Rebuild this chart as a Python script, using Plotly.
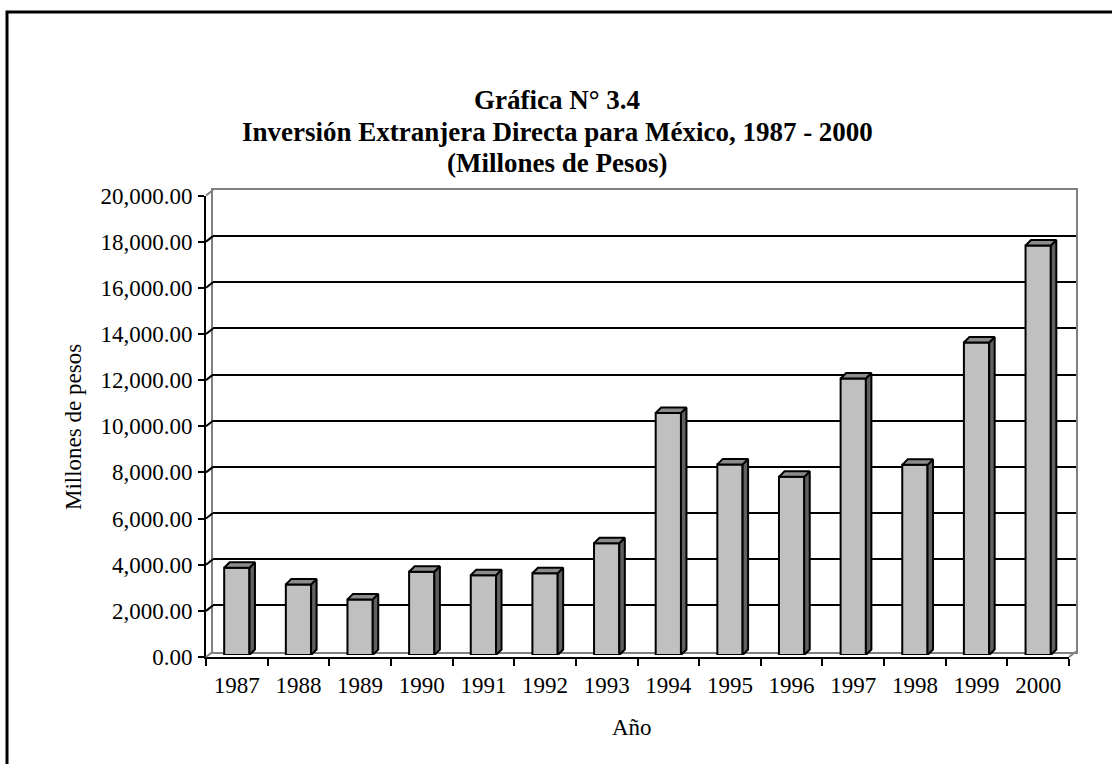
import plotly.graph_objects as go

# ---- data ----
years = ["1987", "1988", "1989", "1990", "1991", "1992", "1993",
         "1994", "1995", "1996", "1997", "1998", "1999", "2000"]
ied_values = [3780, 3060, 2410, 3610, 3460, 3540, 4840,
              10490, 8260, 7720, 11980, 8240, 13540, 17750]
y_ticks = list(range(0, 20001, 2000))

title_lines = ["Gráfica N° 3.4",
               "Inversión Extranjera Directa para México, 1987 - 2000",
               "(Millones de Pesos)"]
y_title = "Millones de pesos"
x_title = "Año"

# ---- geometry (pixels) ----
W, H = 1112, 764
FONT = "Liberation Serif, Times New Roman, serif"


def px(x):
    return x / W


def py(y):
    return 1 - y / H


FX0, FX1, FY_TOP, FY_BOT = 206, 1069, 195.5, 657   # front axes
DX, DY = 7, 5.5                                     # wall depth
BAR_UP = 2                                          # bars sit slightly behind front
YMAX = 20000

fig = go.Figure()

# invisible trace to hold the categorical front axis
fig.add_trace(go.Scatter(x=years, y=ied_values, mode="markers",
                         marker=dict(opacity=0), hoverinfo="skip",
                         showlegend=False, xaxis="x", yaxis="y"))

# back wall subplot (gridlines)
fig.add_trace(go.Scatter(x=[0], y=[0], mode="markers", marker=dict(opacity=0),
                         hoverinfo="skip", showlegend=False, xaxis="x2", yaxis="y2"))

# bars (front faces)
idx = list(range(len(years)))
BW = 0.41
fig.add_trace(go.Bar(x=idx, y=ied_values, width=BW,
                     marker=dict(color="#C0C0C0", line=dict(color="black", width=2)),
                     showlegend=False, xaxis="x3", yaxis="y3", hoverinfo="skip"))

# 3D faces computed in data units
ddx = 5.5 / ((FX1 - FX0) / len(years))
ddy = 5.5 / ((FY_BOT - FY_TOP) / YMAX)
hw = BW / 2
top_x, top_y, side_x, side_y = [], [], [], []
for i, v in zip(idx, ied_values):
    top_x += [i - hw, i + hw, i + hw + ddx, i - hw + ddx, i - hw, None]
    top_y += [v, v, v + ddy, v + ddy, v, None]
    side_x += [i + hw, i + hw, i + hw + ddx, i + hw + ddx, i + hw, None]
    side_y += [0, v, v + ddy, ddy, 0, None]
fig.add_trace(go.Scatter(x=side_x, y=side_y, mode="lines", fill="toself",
                         fillcolor="#606060", line=dict(color="black", width=2),
                         showlegend=False, xaxis="x3", yaxis="y3", hoverinfo="skip"))
fig.add_trace(go.Scatter(x=top_x, y=top_y, mode="lines", fill="toself",
                         fillcolor="#8C8C8C", line=dict(color="black", width=2),
                         showlegend=False, xaxis="x3", yaxis="y3", hoverinfo="skip"))

tick_font = dict(family=FONT, size=23, color="black")

fig.update_layout(
    width=W, height=H,
    margin=dict(l=0, r=0, t=0, b=0, autoexpand=False),
    paper_bgcolor="white",
    plot_bgcolor="rgba(0,0,0,0)",
    showlegend=False,
    xaxis=dict(type="category", categoryorder="array", categoryarray=years,
               range=[-0.5, len(years) - 0.5], automargin=False,
               domain=[px(FX0), px(FX1)], anchor="y",
               showline=True, linecolor="black", linewidth=2,
               ticks="outside", tickson="boundaries", ticklen=7, tickwidth=2,
               tickcolor="black", showgrid=False, zeroline=False,
               ticklabelstandoff=6,
               tickfont=tick_font, fixedrange=True),
    yaxis=dict(range=[0, YMAX], domain=[py(FY_BOT), py(FY_TOP)], anchor="x",
               automargin=False,
               showline=True, linecolor="black", linewidth=2,
               ticks="outside", ticklen=6, tickwidth=2, tickcolor="black",
               tickvals=y_ticks, tickformat=",.2f", showgrid=False, zeroline=False,
               ticklabelstandoff=1,
               tickfont=tick_font, fixedrange=True),
    xaxis2=dict(range=[-0.5, len(years) - 0.5], automargin=False,
                domain=[px(FX0 + DX), px(FX1 + DX)], anchor="y2",
                showline=True, mirror=True, linecolor="#808080", linewidth=2,
                showgrid=False, zeroline=False, showticklabels=False, ticks=""),
    yaxis2=dict(range=[0, YMAX], domain=[py(FY_BOT - DY), py(FY_TOP - DY)], anchor="x2",
                automargin=False,
                showline=True, mirror=True, linecolor="#808080", linewidth=2,
                tickvals=y_ticks[1:-1], showgrid=True, gridcolor="black", gridwidth=2,
                zeroline=False, showticklabels=False, ticks=""),
    xaxis3=dict(range=[-0.5, len(years) - 0.5], automargin=False,
                domain=[px(FX0), px(FX1)], anchor="y3",
                visible=False),
    yaxis3=dict(range=[0, YMAX], domain=[py(FY_BOT - BAR_UP), py(FY_TOP - BAR_UP)],
                automargin=False, anchor="x3", visible=False),
)

shapes = []
# outer border
shapes.append(dict(type="rect", xref="paper", yref="paper",
                   x0=px(7), x1=1.02, y0=-0.02, y1=py(12),
                   line=dict(color="black", width=3), fillcolor="rgba(0,0,0,0)"))


def yf(v):
    return FY_BOT - v / YMAX * (FY_BOT - FY_TOP)


# tick diagonals from front axis to back wall
for v in y_ticks:
    col = "#808080" if v in (0, YMAX) else "black"
    shapes.append(dict(type="line", xref="paper", yref="paper",
                       x0=px(FX0), y0=py(yf(v)), x1=px(FX0 + DX), y1=py(yf(v) - DY),
                       line=dict(color=col, width=2)))
# right floor diagonal
shapes.append(dict(type="line", xref="paper", yref="paper",
                   x0=px(FX1), y0=py(FY_BOT), x1=px(FX1 + DX), y1=py(FY_BOT - DY),
                   line=dict(color="#808080", width=2)))
fig.update_layout(shapes=shapes)

title_y = [100, 131.5, 163]
annotations = []
for line, ty in zip(title_lines, title_y):
    annotations.append(dict(text="<b>" + line + "</b>", xref="paper", yref="paper",
                            x=px(557), y=py(ty), xanchor="center", yanchor="middle",
                            showarrow=False,
                            font=dict(family=FONT, size=27, color="black")))
annotations += [
    dict(text=y_title, xref="paper", yref="paper", x=px(73), y=py(427),
         xanchor="center", yanchor="middle", textangle=-90, showarrow=False,
         font=dict(family=FONT, size=23, color="black")),
    dict(text=x_title, xref="paper", yref="paper", x=px(632), y=py(727),
         xanchor="center", yanchor="middle", showarrow=False,
         font=dict(family=FONT, size=23, color="black")),
]
fig.update_layout(annotations=annotations)

fig.write_html("out.html")
